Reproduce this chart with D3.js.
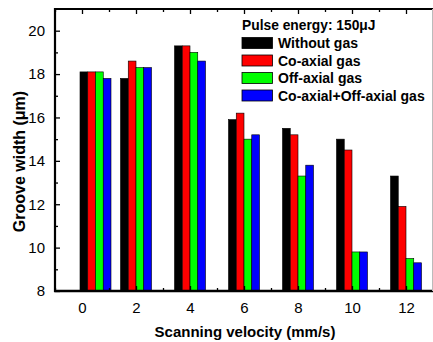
<!DOCTYPE html>
<html>
<head>
<meta charset="utf-8">
<script src="https://cdn.jsdelivr.net/npm/d3@7"></script>
<style>
  html, body { margin: 0; padding: 0; background: #fff; }
  svg { display: block; font-family: "Liberation Sans", Arial, sans-serif; }
</style>
</head>
<body>
<svg id="chart" width="433" height="342"></svg>
<script>
// Scanning velocity categories (mm/s) and where each bar group sits on the axis
const velocityTicks = [0, 2, 4, 6, 8, 10, 12];
const groupX = [0.5, 2, 4, 6, 8, 10, 12];

// Groove width (µm) per gas condition
const withoutGas = [18.1, 17.8, 19.3, 15.9, 15.5, 15.0, 13.3];
const coAxialGas = [18.1, 18.6, 19.3, 16.2, 15.2, 14.5, 11.9];
const offAxialGas = [18.1, 18.3, 19.0, 15.0, 13.3, 9.8, 9.5];
const combinedGas = [17.8, 18.3, 18.6, 15.2, 13.8, 9.8, 9.3];

const seriesNames = ["Without gas", "Co-axial gas", "Off-axial gas", "Co-axial+Off-axial gas"];
const seriesColors = ["#000000", "#ff0000", "#00ff00", "#0000ff"];
const seriesValues = [withoutGas, coAxialGas, offAxialGas, combinedGas];

const yTicks = [8, 10, 12, 14, 16, 18, 20];

const svg = d3.select("#chart");
const plot = { left: 55, right: 433, top: 9, bottom: 291 };

const x = d3.scaleLinear().domain([-1, 13]).range([plot.left, plot.right]);
const y = d3.scaleLinear().domain([8, 21]).range([plot.bottom, plot.top]);

const barW = 0.287;             // width of one bar in velocity units
const nSeries = seriesValues.length;

// bars
seriesValues.forEach((vals, si) => {
  svg.append("g")
    .selectAll("rect")
    .data(vals)
    .join("rect")
    .attr("x", (d, i) => x(groupX[i] + (si - nSeries / 2) * barW))
    .attr("width", x(barW) - x(0))
    .attr("y", d => y(d))
    .attr("height", d => y(8) - y(d))
    .attr("fill", seriesColors[si])
    .attr("stroke", "#000")
    .attr("stroke-width", 0.6);
});

// axes with inward ticks
const minorX = d3.range(-1, 14, 1).filter(v => v % 2 !== 0);
const minorY = d3.range(9, 21, 2);

function styleAxis(g) {
  g.select(".domain").remove();
  g.selectAll("text").attr("font-size", "15px").attr("fill", "#000");
  g.selectAll("line").attr("stroke", "#000").attr("stroke-width", 1.3);
}

// bottom
svg.append("g")
  .attr("transform", `translate(0,${plot.bottom})`)
  .call(d3.axisBottom(x).tickValues(velocityTicks).tickSizeInner(-5).tickSizeOuter(0).tickPadding(11))
  .call(styleAxis);
svg.append("g")
  .attr("transform", `translate(0,${plot.bottom})`)
  .call(d3.axisBottom(x).tickValues(minorX).tickSizeInner(-3).tickSizeOuter(0).tickFormat(""))
  .call(styleAxis);

// top
svg.append("g")
  .attr("transform", `translate(0,${plot.top})`)
  .call(d3.axisTop(x).tickValues(velocityTicks).tickSizeInner(-5).tickSizeOuter(0).tickFormat(""))
  .call(styleAxis);
svg.append("g")
  .attr("transform", `translate(0,${plot.top})`)
  .call(d3.axisTop(x).tickValues(minorX).tickSizeInner(-3).tickSizeOuter(0).tickFormat(""))
  .call(styleAxis);

// left
svg.append("g")
  .attr("transform", `translate(${plot.left},0)`)
  .call(d3.axisLeft(y).tickValues(yTicks).tickSizeInner(-5).tickSizeOuter(0).tickPadding(10))
  .call(styleAxis);
svg.append("g")
  .attr("transform", `translate(${plot.left},0)`)
  .call(d3.axisLeft(y).tickValues(minorY).tickSizeInner(-3).tickSizeOuter(0).tickFormat(""))
  .call(styleAxis);

// frame lines
svg.append("line").attr("x1", plot.left - 1).attr("x2", plot.right).attr("y1", plot.bottom).attr("y2", plot.bottom)
  .attr("stroke", "#000").attr("stroke-width", 2.6);
svg.append("line").attr("x1", plot.left - 1).attr("x2", plot.right).attr("y1", plot.top).attr("y2", plot.top)
  .attr("stroke", "#000").attr("stroke-width", 2);
svg.append("line").attr("x1", plot.left).attr("x2", plot.left).attr("y1", plot.top - 1).attr("y2", plot.bottom + 1)
  .attr("stroke", "#000").attr("stroke-width", 2.2);
svg.append("line").attr("x1", plot.right - 0.5).attr("x2", plot.right - 0.5).attr("y1", plot.top).attr("y2", plot.bottom)
  .attr("stroke", "#bbb").attr("stroke-width", 1);

// axis titles
svg.append("text")
  .attr("x", 245).attr("y", 337)
  .attr("text-anchor", "middle")
  .attr("font-size", "15px").attr("font-weight", "bold")
  .text("Scanning velocity (mm/s)");

svg.append("text")
  .attr("transform", "translate(24.5,161.5) rotate(-90)")
  .attr("text-anchor", "middle")
  .attr("font-size", "16px").attr("font-weight", "bold")
  .text("Groove width (\u03bcm)");

// legend
const legend = svg.append("g").attr("transform", "translate(242,0)");
legend.append("text")
  .attr("x", 0).attr("y", 30)
  .attr("font-size", "13.8px").attr("font-weight", "bold")
  .text("Pulse energy: 150\u03bcJ");

const rowY = d3.scaleLinear().domain([0, 1]).range([37.5, 55]);
seriesNames.forEach((name, i) => {
  legend.append("rect")
    .attr("x", 0).attr("y", rowY(i))
    .attr("width", 30.5).attr("height", 11)
    .attr("fill", seriesColors[i])
    .attr("stroke", "#000").attr("stroke-width", 0.8);
  legend.append("text")
    .attr("x", 36).attr("y", rowY(i) + 10.8)
    .attr("font-size", "14px").attr("font-weight", "bold")
    .text(name);
});
</script>
</body>
</html>
